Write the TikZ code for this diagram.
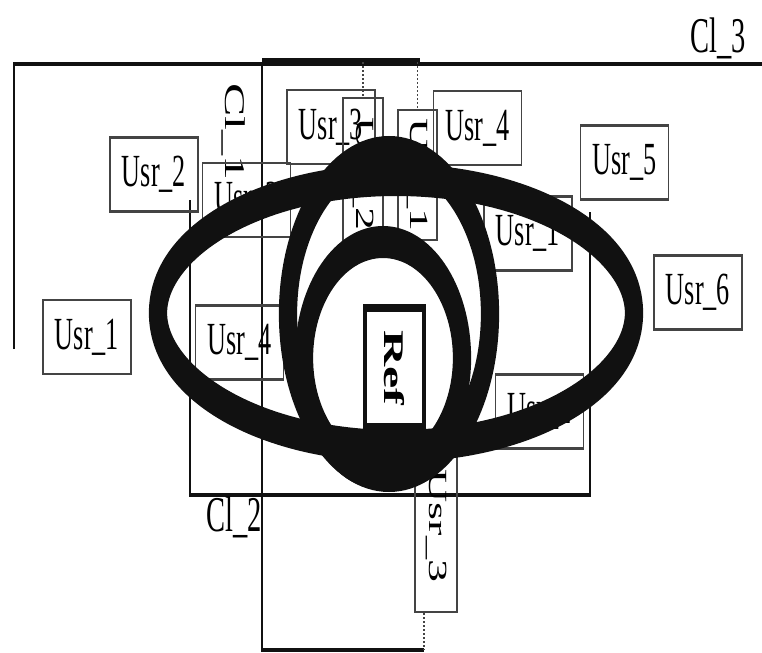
\documentclass[tikz,border=0pt]{standalone}
\usepackage{fontspec}
\setmainfont{Liberation Serif}
\usepackage{xcolor}
\usepackage{tikz}
\definecolor{ink}{HTML}{111111}
\definecolor{frame}{HTML}{444444}
\tikzset{
  usr/.style={rectangle,draw=frame,line width=1.2pt,align=center,inner sep=0pt,
    font=\fontsize{23}{25}\selectfont,minimum width=77pt,minimum height=37pt},
  vusr/.style={usr,rotate=-90},
  refbox/.style={rectangle,draw=ink,line width=4pt,inner sep=0pt,rotate=-90,
    font=\fontsize{25}{27}\selectfont\bfseries},
  cllab/.style={inner sep=0pt,font=\fontsize{25}{27}\selectfont},
  cl/.style={draw=ink,line width=2.2pt},
  ring/.style={draw=ink,line width=16pt},
  lnk/.style={draw=frame,densely dotted,line width=1pt},
}
\begin{document}
\begin{tikzpicture}[x=0.5pt,y=-0.5pt]
  \useasboundingbox (0,0) rectangle (762,653);
  \begin{scope}[x=0.8772pt,transform canvas={xscale=0.57}]
  \coordinate (t2) at (363,62);
  \coordinate (t1) at (417.5,62);
  \coordinate (c2b) at (424,650);
  \draw[cl] (14,349) -- (14,64) -- (762,64);
  \draw[cl] (t2 -| 262,0) -- (262,650) -- (c2b);
  \draw[cl,line width=4pt] (262,62) -- (420,62);
  \draw[cl] (190,200) -- (190,495) -- (590,495) -- (590,212);
  \node[cllab] (cl3) at (718,38) {Cl\_3};
  \node[cllab] (cl2) at (234,517) {Cl\_2};
  \node[cllab,rotate=-90] (cl1) at (234,132) {Cl\_1};
  \node[usr] (u2l) at (154,174.5) {Usr\_2};
  \node[usr] (u1l) at (87,337) {Usr\_1};
  \node[usr] (u3l) at (246.5,200) {Usr\_3};
  \node[usr] (u4l) at (239.5,342.5) {Usr\_4};
  \node[usr] (u3t) at (331,127) {Usr\_3};
  \node[usr] (u4t) at (477.5,128) {Usr\_4};
  \node[usr] (u5) at (624.5,162.5) {Usr\_5};
  \node[usr] (u1r) at (528,233.5) {Usr\_1};
  \node[usr] (u6) at (698,292.5) {Usr\_6};
  \node[usr] (u2r) at (539.5,411.5) {Usr\_2};
  \node[vusr,minimum width=76pt,minimum height=35pt] (u2v) at (363,174) {Usr\_2};
  \node[vusr,minimum width=65pt,minimum height=34pt] (u1v) at (417.5,175) {Usr\_1};
  \node[vusr,minimum width=86pt,minimum height=37pt] (u3v) at (436,526) {Usr\_3};
  \node[refbox,minimum width=59.5pt,minimum height=52pt] (ref) at (394.5,367.5) {Ref};
  \draw[lnk] (t2) -- (u2v.west);
  \draw[lnk] (t1) -- (u1v.west);
  \draw[lnk] (u3v.east -| c2b) -- (c2b);
  \coordinate (hz) at (396,313);
  \coordinate (vt) at (389,314);
  \coordinate (sm) at (383,358);
  \draw[ring] (hz) ellipse [x radius=238,y radius=133];
  \draw[ring] (vt) ellipse [x radius=101,y radius=162];
  \draw[ring] (sm) ellipse [x radius=79,y radius=116];
  \end{scope}
\end{tikzpicture}
\end{document}
